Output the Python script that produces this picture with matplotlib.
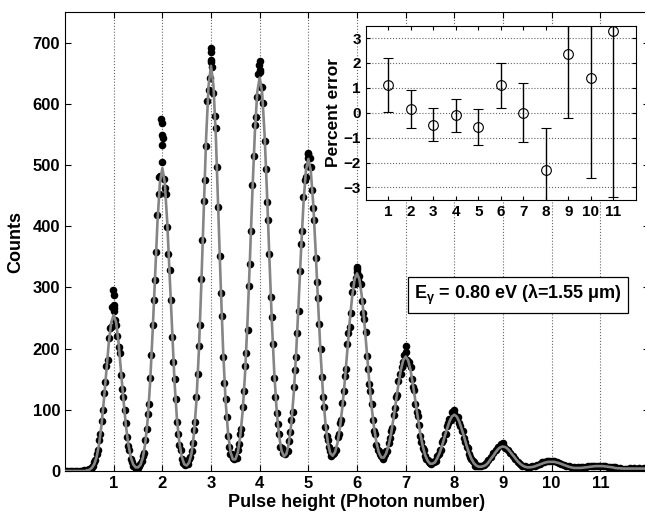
import numpy as np
import matplotlib
matplotlib.use("Agg")
import matplotlib.pyplot as plt

plt.rcParams['font.family'] = ['Liberation Sans', 'DejaVu Sans']
plt.rcParams['font.weight'] = 'bold'
plt.rcParams['mathtext.default'] = 'regular'

# pulse height bins (photon number units)
bin_step = 0.05

# fitted curve, read at every bin from 0 to 12
fit_counts = [
    0, 0, 0, 0, 0, 0, 0, 0, 0, 1,
    2, 5, 11, 23, 44, 75, 117, 164, 210, 243,
    255, 243, 210, 164, 117, 75, 44, 23, 11, 6,
    6, 10, 22, 46, 85, 146, 227, 319, 407, 471,
    495, 471, 407, 319, 227, 146, 85, 46, 23, 11,
    9, 14, 29, 61, 114, 195, 303, 426, 545, 630,
    662, 630, 545, 426, 303, 195, 114, 62, 31, 19,
    19, 30, 56, 97, 160, 245, 347, 455, 551, 619,
    643, 619, 551, 455, 347, 245, 160, 98, 57, 33,
    24, 28, 46, 77, 127, 194, 275, 360, 437, 491,
    510, 491, 437, 360, 275, 194, 128, 79, 47, 29,
    25, 31, 46, 71, 105, 148, 196, 244, 285, 313,
    323, 313, 285, 244, 196, 148, 105, 71, 46, 30,
    22, 22, 29, 42, 61, 86, 114, 141, 165, 181,
    187, 181, 165, 141, 114, 86, 61, 41, 26, 17,
    12, 12, 14, 21, 30, 42, 56, 69, 81, 89,
    92, 89, 81, 69, 56, 42, 30, 20, 13, 9,
    7, 7, 8, 10, 14, 20, 25, 31, 36, 39,
    40, 39, 36, 31, 26, 21, 16, 12, 9, 7,
    6, 6, 6.5, 7.5, 9, 10.5, 12, 13.5, 14.5, 15,
    15, 15, 14, 13, 11.5, 10, 8.5, 7, 6, 5,
    5, 5, 5, 5.5, 6, 6.5, 7, 7.5, 8, 8,
    8, 8, 7.5, 7, 6.5, 6, 5, 4.5, 4.5, 4,
    4, 4, 4, 4, 4, 4, 4, 4, 4, 4,
    4,
]

# measured counts in the same bins
data_counts = [
    0, 0, 0, 0, 0, 0, 0, 0, 1, 1,
    3, 6, 14, 27, 50, 82, 128, 171, 218, 236,
    262, 238, 203, 157, 121, 79, 41, 19, 9, 4,
    5, 12, 25, 51, 93, 152, 238, 312, 418, 482,
    505, 462, 398, 328, 219, 151, 80, 43, 20, 13,
    15, 19, 33, 67, 121, 204, 314, 441, 531, 622,
    668, 618, 561, 432, 291, 187, 118, 58, 28, 22,
    25, 35, 60, 104, 171, 231, 338, 468, 565, 612,
    652, 628, 540, 440, 355, 252, 152, 94, 60, 38,
    30, 33, 49, 84, 138, 187, 262, 371, 447, 481,
    518, 497, 430, 348, 282, 199, 121, 72, 50, 33,
    28, 35, 55, 78, 111, 156, 207, 235, 292, 306,
    330, 318, 278, 249, 188, 142, 110, 66, 43, 33,
    25, 24, 33, 46, 66, 92, 121, 147, 158, 178,
    195, 176, 170, 137, 109, 90, 58, 38, 25, 18,
    13, 14, 17, 25, 35, 47, 60, 73, 85, 97,
    95, 86, 79, 66, 54, 39, 28, 19, 14, 10,
    8, 9, 10, 13, 18, 23, 29, 34, 39, 44,
    42, 38, 35, 29, 24, 19, 15, 12, 9, 8,
    7, 7, 8, 9, 10, 12, 14, 15, 16, 17,
    16, 16, 15, 13, 12, 10, 9, 8, 7, 6,
    5, 6, 6, 7, 7, 8, 8, 9, 9, 9,
    9, 8, 8, 7, 7, 6, 6, 5, 5, 4,
    4, 4, 5, 4, 5, 4, 5, 4, 5, 4,
    4,
]

# second readout, half a bin later, from 0.525 to 8.475
data_counts_b = [
    4, 8, 18, 35, 61, 99, 146, 182, 234, 268,
    247, 221, 193, 134, 99, 55, 35, 14, 9, 4,
    8, 17, 30, 68, 109, 190, 280, 358, 452, 481,
    478, 452, 355, 280, 178, 118, 60, 35, 13, 10,
    12, 23, 45, 80, 158, 238, 378, 476, 604, 642,
    660, 580, 497, 352, 253, 144, 88, 40, 27, 20,
    21, 44, 69, 131, 193, 303, 392, 515, 578, 648,
    628, 601, 494, 410, 285, 207, 121, 77, 40, 30,
    27, 33, 64, 96, 165, 226, 327, 392, 475, 498,
    511, 459, 410, 309, 240, 154, 105, 58, 39, 24,
    29, 34, 60, 83, 131, 167, 226, 259, 306, 316,
    312, 306, 259, 227, 166, 131, 83, 60, 34, 27,
    19, 27, 33, 54, 70, 103, 124, 158, 170, 190,
    182, 178, 150, 132, 96, 76, 47, 35, 19, 15,
    11, 14, 16, 27, 34, 51, 61, 79, 83, 94,
    89, 88, 73, 65, 47, 38, 23, 17, 9, 8,
]

# repeated readings that sit above the peak tops
peak_x = [0.99, 1.0, 1.01, 1.0, 1.98, 1.99, 2.0, 2.01, 1.99, 1.94,
          3.0, 3.01, 2.99, 4.0, 3.99, 4.01, 4.99, 5.0, 6.0, 5.99,
          7.0, 8.0, 9.0]
peak_y = [296, 288, 271, 266, 576, 568, 549, 544, 533, 481,
          691, 685, 672, 670, 663, 655, 519, 512, 333, 325,
          205, 100, 46]

# inset: percent error of each photon-number peak
photon_number = [1, 2, 3, 4, 5, 6, 7, 8, 9, 10, 11]
percent_error = [1.12, 0.15, -0.48, -0.10, -0.58, 1.10, 0.01, -2.30, 2.35, 1.40, 3.27]
error_bar = [1.10, 0.77, 0.67, 0.66, 0.73, 0.90, 1.19, 1.67, 2.54, 4.00, 6.66]

pulse_height = np.round(np.arange(len(fit_counts)) * bin_step, 3)
pulse_height_b = np.round(0.525 + np.arange(len(data_counts_b)) * bin_step, 3)

fig = plt.figure(figsize=(6.45, 5.18), dpi=100)
ax = fig.add_axes([0.1008, 0.0907, 0.9054, 0.886])

for xs, ys in [(pulse_height, data_counts), (pulse_height_b, data_counts_b), (peak_x, peak_y)]:
    ax.scatter(xs, ys, s=30, color='black', zorder=2, linewidths=0)
ax.plot(pulse_height, fit_counts, color='#858585', linewidth=1.9, zorder=3)

ax.set_xlim(0, 12)
ax.set_ylim(0, 750)
ax.set_xticks(range(1, 12))
ax.set_yticks(range(0, 701, 100))
ax.grid(axis='x', linestyle=':', color='#666666', linewidth=0.8, zorder=0)
ax.tick_params(direction='in', top=True, right=True, length=4, labelsize=12, width=0.8)
ax.set_xlabel('Pulse height (Photon number)', fontsize=13, fontweight='bold', labelpad=2)
ax.set_ylabel('Counts', fontsize=13, fontweight='bold', labelpad=6)

ax.text(9.31, 288, r'E$_{\gamma}$ = 0.80 eV (λ=1.55 μm)', fontsize=13,
        fontweight='bold', ha='center', va='center',
        bbox=dict(boxstyle='square,pad=0.32', facecolor='white', edgecolor='black', linewidth=0.9))

# inset with percent error
ax2 = fig.add_axes([0.567, 0.614, 0.419, 0.3365])
ax2.errorbar(photon_number, percent_error, yerr=error_bar, fmt='o', color='black',
             mfc='none', mec='black', ms=7, mew=0.8, elinewidth=1.0, capsize=3.5, capthick=1.0)
ax2.set_xlim(0, 12)
ax2.set_ylim(-3.5, 3.5)
ax2.set_xticks(photon_number)
ax2.set_yticks(range(-3, 4))
ax2.grid(axis='y', linestyle=':', color='#666666', linewidth=0.8)
ax2.tick_params(direction='in', top=True, right=True, length=3, labelsize=11, width=0.8)
ax2.set_ylabel('Percent error', fontsize=12.5, fontweight='bold', labelpad=2)

fig.savefig('out.png', dpi=100)
